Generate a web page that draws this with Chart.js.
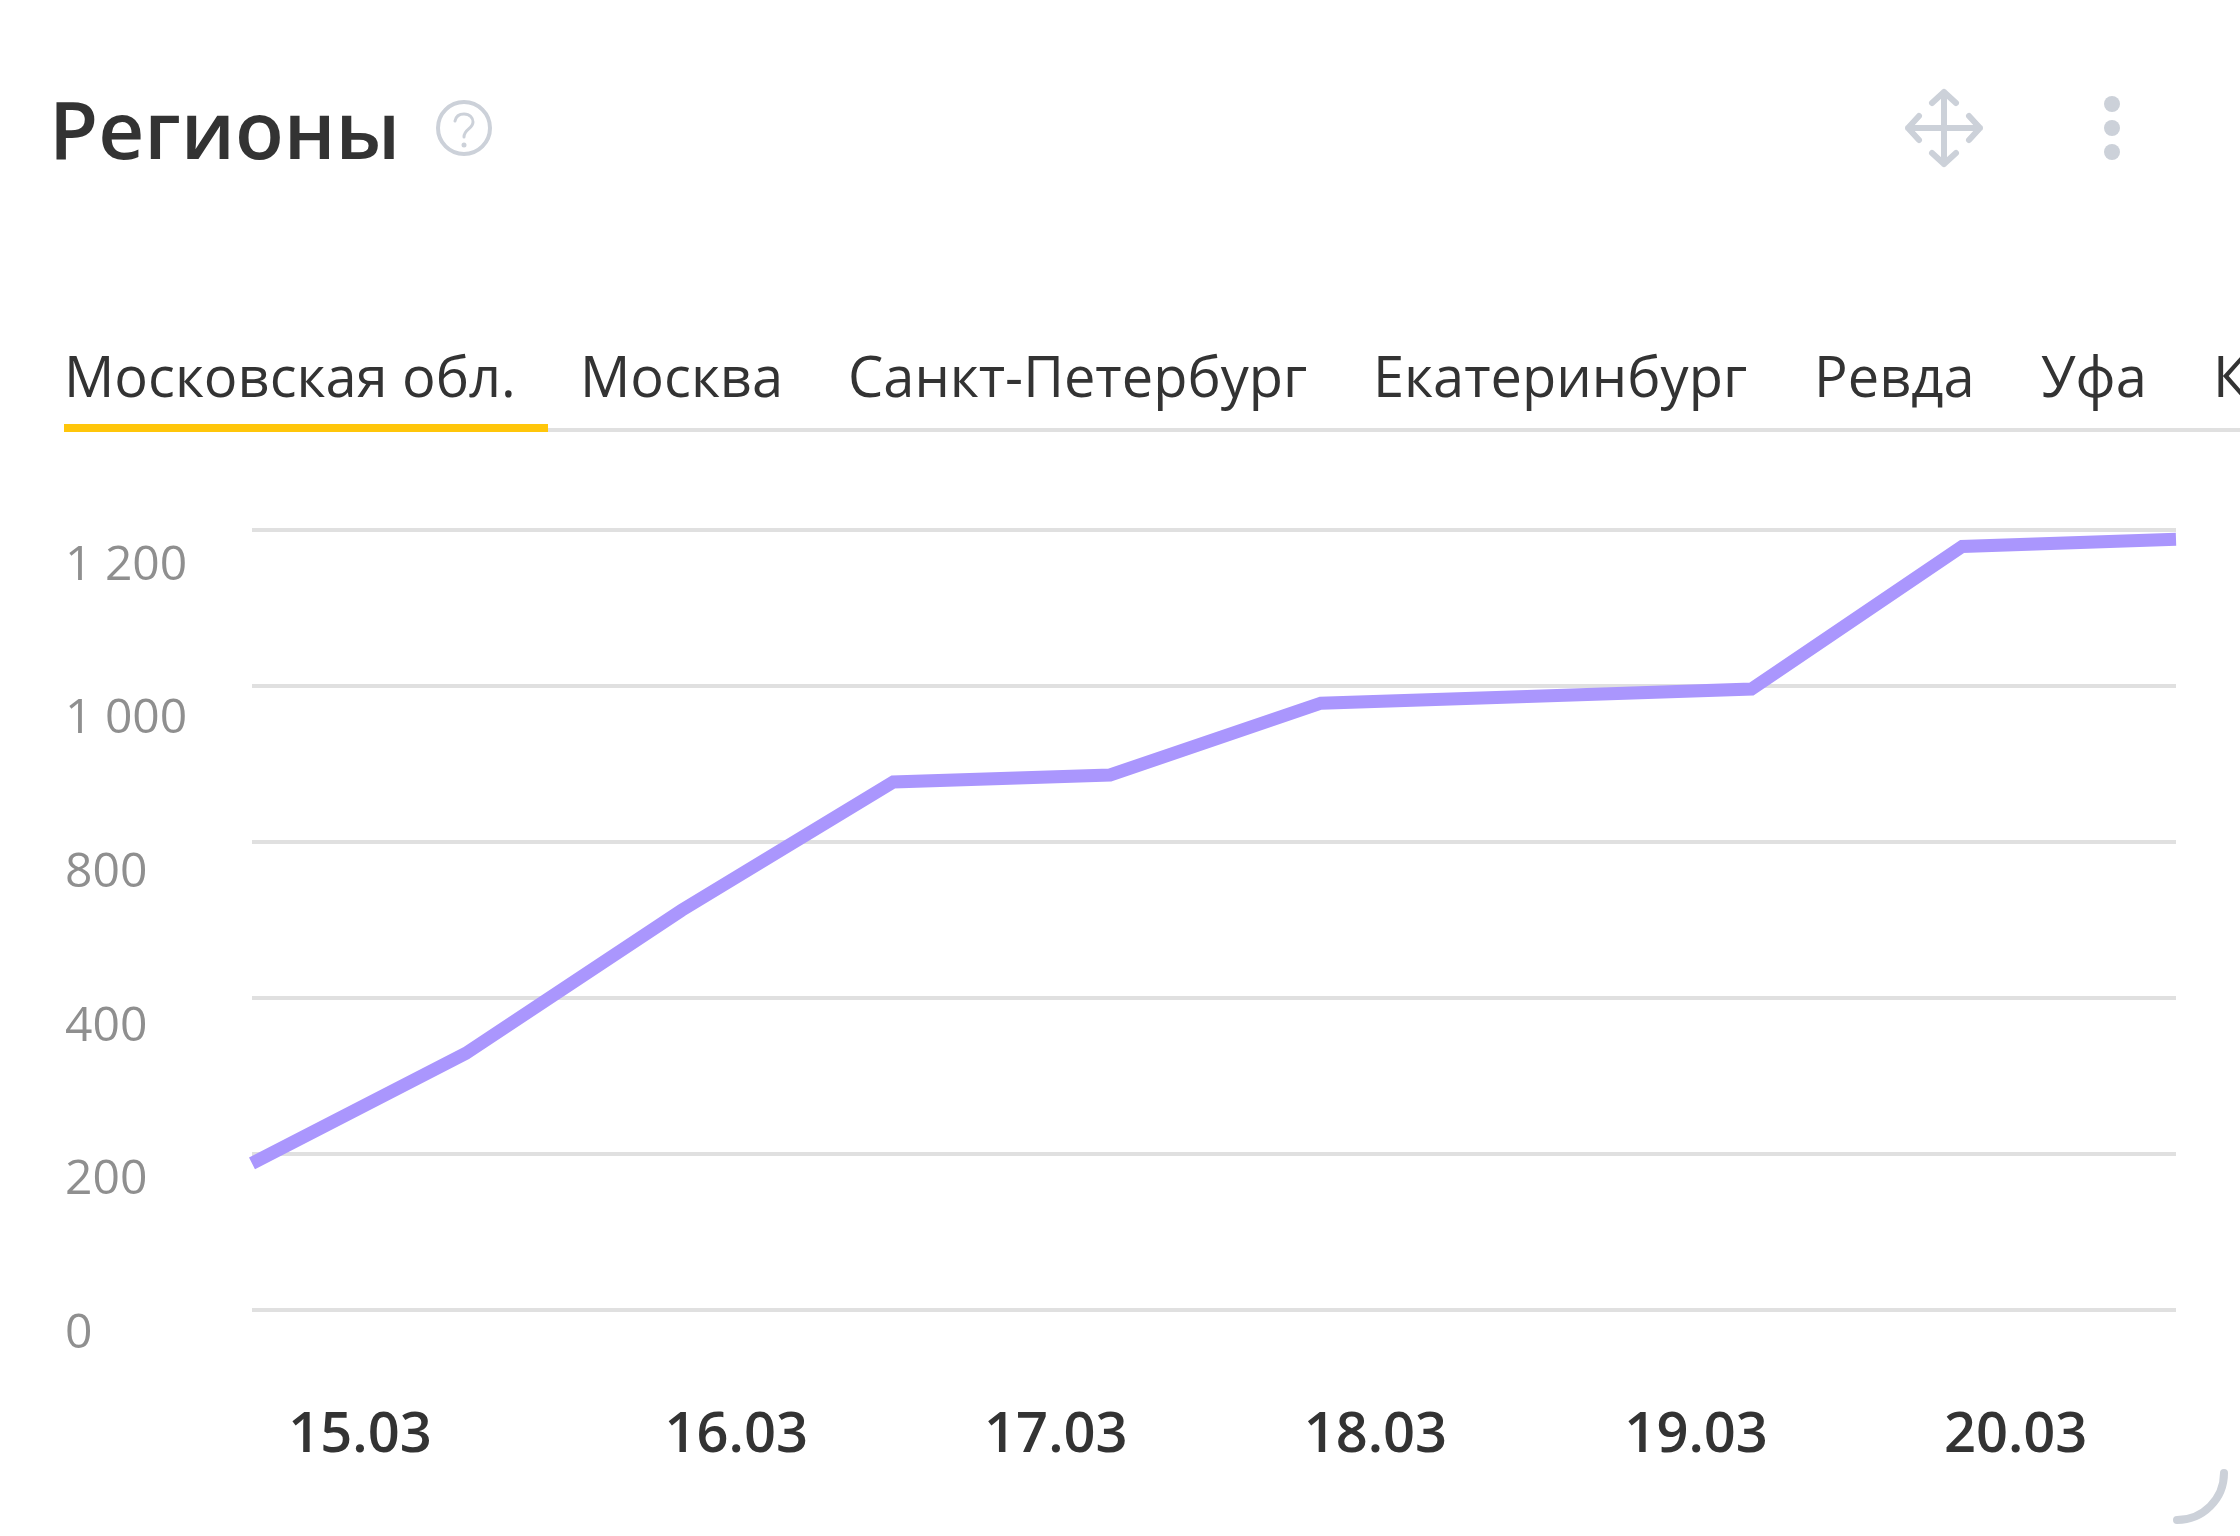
<!DOCTYPE html>
<html lang="ru">
<head>
<meta charset="utf-8">
<title>Регионы</title>
<script src="https://cdn.jsdelivr.net/npm/chart.js@4/dist/chart.umd.js"></script>
<style>
html,body{margin:0;padding:0;background:#fff;width:2240px;height:1536px;overflow:hidden;font-family:"Open Sans",sans-serif}
#wrap{position:relative;width:2240px;height:1536px;overflow:hidden}
canvas{position:absolute;left:0;top:0}
.t{position:absolute;white-space:nowrap;color:#333}
#title{left:49px;top:78px;font-size:80px;line-height:100px;font-weight:600}
.tab{top:339px;font-size:56px;line-height:72px;font-weight:400}
#rule{position:absolute;left:64px;right:0;top:428px;height:4px;background:#e0e0e0}
#active{position:absolute;left:64px;width:484px;top:424px;height:8px;background:#ffc60a}
svg.ic{position:absolute;left:0;top:0}
</style>
</head>
<body>
<div id="wrap">
<canvas id="c" width="2240" height="1536"></canvas>
<div id="title" class="t">Регионы</div>
<div id="rule"></div><div id="active"></div>
<svg class="ic" width="2240" height="1536" fill="none" stroke="#ccd1d9" stroke-linecap="round" stroke-linejoin="round">
  <circle cx="464" cy="128" r="26" stroke-width="4"/>
  <path d="M455 121c1-5 5-7 9-7c6 0 9 4 9 8c0 7-9 7-9 15" stroke-width="3"/>
  <circle cx="464" cy="145" r="2.5" fill="#ccd1d9" stroke="none"/>
  <path d="M1944 92V164M1908 128H1980M1932 103L1944 92L1956 103M1932 153L1944 164L1956 153M1919 116L1908 128L1919 140M1969 116L1980 128L1969 140" stroke-width="6"/>
  <circle cx="2112" cy="104" r="8" fill="#ccd1d9" stroke="none"/>
  <circle cx="2112" cy="128" r="8" fill="#ccd1d9" stroke="none"/>
  <circle cx="2112" cy="152" r="8" fill="#ccd1d9" stroke="none"/>
  <path d="M2224 1473A47 47 0 0 1 2177 1520" stroke-width="8"/>
</svg>
</div>
<script>
// Chart data
const tabs = ['Московская обл.', 'Москва', 'Санкт-Петербург', 'Екатеринбург', 'Ревда', 'Уфа', 'К'];
const tabLefts = [64, 580, 848, 1373, 1814, 2041, 2213];
const pointIndex = [0, 1, 2.01, 3, 4.014, 5, 6, 7.014, 8, 9];
const regionValues = [188, 329, 625, 877, 886, 978, 987, 996, 1179, 1188];
const yTicks = [0, 200, 400, 800, 1000, 1200];
const yTickLabels = ['0', '200', '400', '800', '1 000', '1 200'];
const xTickLabels = ['15.03', '16.03', '17.03', '18.03', '19.03', '20.03'];
const xTickAt = [0.505, 2.265, 3.76, 5.255, 6.755, 8.25];
const yLabelDrop = [24, 26, 29, 31, 33, 36];

const wrap = document.getElementById('wrap');
tabs.forEach((name, i) => {
  const d = document.createElement('div');
  d.className = 't tab';
  d.style.left = tabLefts[i] + 'px';
  d.textContent = name;
  wrap.appendChild(d);
});

// The source axis spaces its unevenly valued ticks evenly: map values piecewise between ticks.
class StepScale extends Chart.LinearScale {
  static id = 'step';
  static defaults = Chart.LinearScale.defaults;
  getPixelForValue(v) {
    let i = 0;
    while (i < yTicks.length - 2 && v > yTicks[i + 1]) i++;
    const f = (i + (v - yTicks[i]) / (yTicks[i + 1] - yTicks[i])) / (yTicks.length - 1);
    const px = this.bottom - f * (this.bottom - this.top);
    const drop = this.options.labelDrop;
    return px + (drop ? drop[yTicks.indexOf(v)] || 0 : 0);
  }
}
Chart.register(StepScale);

const noPad = s => { s.paddingLeft = s.paddingRight = s.paddingTop = s.paddingBottom = 0; };
const setTicks = arr => s => { s.ticks = arr.map(value => ({ value })); };

new Chart(document.getElementById('c'), {
  type: 'line',
  data: {
    datasets: [{
      data: pointIndex.map((x, i) => ({ x, y: regionValues[i] })),
      borderColor: '#aa96fd',
      borderWidth: 13,
      borderCapStyle: 'butt',
      borderJoinStyle: 'miter',
      tension: 0,
      pointRadius: 0,
      fill: false,
      clip: false,
      xAxisID: 'x',
      yAxisID: 'y'
    }]
  },
  options: {
    responsive: false,
    animation: false,
    events: [],
    devicePixelRatio: 1,
    layout: { padding: { left: 65, right: 64, top: 530, bottom: 0 } },
    plugins: { legend: { display: false }, tooltip: { enabled: false }, title: { display: false } },
    scales: {
      x: {
        type: 'linear', min: 0, max: 9,
        afterBuildTicks: setTicks(xTickAt),
        afterFit: s => { s.height = 226; noPad(s); },
        grid: { display: false, drawTicks: false },
        border: { display: false },
        ticks: {
          padding: 92, maxRotation: 0, minRotation: 0, autoSkip: false, color: '#333',
          font: { family: '"Open Sans"', size: 56, weight: '600', lineHeight: 1.2 },
          callback: (v, i) => xTickLabels[i]
        }
      },
      y: {
        type: 'step', min: 0, max: 1200, weight: 0,
        afterBuildTicks: setTicks(yTicks),
        afterFit: s => { s.width = 0; noPad(s); },
        grid: { color: '#e0e0e0', lineWidth: 4, drawTicks: false },
        border: { display: false },
        ticks: { display: false }
      },
      yLabels: {
        type: 'step', axis: 'y', min: 0, max: 1200, weight: 1, labelDrop: yLabelDrop,
        afterBuildTicks: setTicks(yTicks),
        afterFit: s => { s.width = 187; noPad(s); },
        grid: { display: false, drawTicks: false },
        border: { display: false },
        ticks: {
          crossAlign: 'far', autoSkip: false, color: '#8f8f8f',
          font: { family: '"Open Sans"', size: 48, lineHeight: 1.2 },
          callback: (v, i) => yTickLabels[i]
        }
      }
    }
  }
});
</script>
</body>
</html>
